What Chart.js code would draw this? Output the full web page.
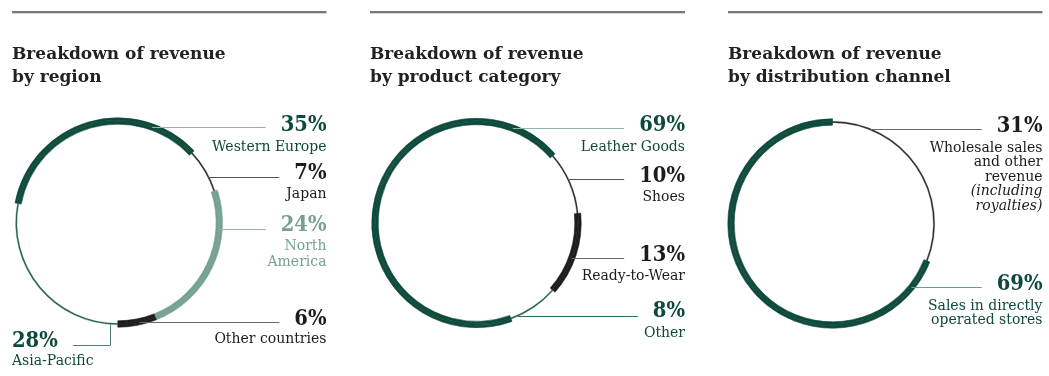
<!DOCTYPE html>
<html>
<head>
<meta charset="utf-8">
<script src="https://cdn.jsdelivr.net/npm/chart.js@4.4.1/dist/chart.umd.min.js"></script>
<style>
  html, body { margin: 0; padding: 0; background: #fff; }
  #wrap { position: relative; width: 1049px; height: 376px; overflow: hidden; }
  #wrap canvas { position: absolute; left: 0; top: 0; }
</style>
</head>
<body>
<div id="wrap">
  <canvas id="region" width="1049" height="376"></canvas>
  <canvas id="product" width="1049" height="376"></canvas>
  <canvas id="channel" width="1049" height="376"></canvas>
</div>
<script>
// ---- Revenue breakdown data (percent of total) ----
const regionLabels = ['Western Europe', 'Japan', 'North America', 'Other countries', 'Asia-Pacific'];
const regionShares = [35, 7, 24, 6, 28];
const regionCaptions = [['Western Europe'], ['Japan'], ['North', 'America'], ['Other countries'], ['Asia-Pacific']];

const productLabels = ['Leather Goods', 'Shoes', 'Ready-to-Wear', 'Other'];
const productShares = [69, 10, 13, 8];
const productCaptions = [['Leather Goods'], ['Shoes'], ['Ready-to-Wear'], ['Other']];

const channelLabels = ['Wholesale sales and other revenue (including royalties)', 'Sales in directly operated stores'];
const channelShares = [31, 69];
const channelCaptions = [['Wholesale sales', 'and other', 'revenue', '(including', 'royalties)'], ['Sales in directly', 'operated stores']];

const panelTitles = [
  ['Breakdown of revenue', 'by region'],
  ['Breakdown of revenue', 'by product category'],
  ['Breakdown of revenue', 'by distribution channel']
];

// ---- Palette ----
const DARK = '#0d4a3b';
const LIGHT = '#76a192';
const INK = '#1c1c1c';
const HAIR = '#2e2e2e';
const CLEAR = 'rgba(0,0,0,0)';

const SERIF = "'DejaVu Serif', serif";
const PCT_FONT = 'bold 22px ' + SERIF;
const PCT_SQUEEZE = 0.89;
const CAP_FONT = '14px ' + SERIF;
const CAP_ITALIC = 'italic 14px ' + SERIF;
const TITLE_FONT = 'bold 17px ' + SERIF;

// Each ring is built from three concentric bands sharing the same values:
// heavy segments fill all three, hairline segments only the middle one.
function ringDatasets(values, colors, heavy) {
  const edge = colors.map((c, i) => heavy[i] ? c : CLEAR);
  return [
    { data: values, backgroundColor: edge, borderColor: edge, borderWidth: heavy.map(h => h ? 0.6 : 0), weight: 2.5 },
    { data: values, backgroundColor: colors, borderColor: colors, borderWidth: heavy.map(h => h ? 0.6 : 0.25), weight: 1.4 },
    { data: values, backgroundColor: edge, borderColor: edge, borderWidth: heavy.map(h => h ? 0.6 : 0), weight: 2.5 }
  ];
}

function drawPct(ctx, text, x, y, align, color) {
  ctx.save();
  ctx.font = PCT_FONT;
  ctx.fillStyle = color;
  ctx.textAlign = align;
  ctx.textBaseline = 'alphabetic';
  ctx.translate(x, y);
  ctx.scale(PCT_SQUEEZE, 1);
  ctx.fillText(text, 0, 0);
  const w = ctx.measureText(text).width * PCT_SQUEEZE;
  ctx.restore();
  return w;
}

function hline(ctx, x1, x2, y, color) {
  ctx.save();
  ctx.strokeStyle = color;
  ctx.lineWidth = 1;
  ctx.beginPath();
  const yy = Math.round(y) + 0.5;
  ctx.moveTo(x1, yy);
  ctx.lineTo(x2, yy);
  ctx.stroke();
  ctx.restore();
}

// Draws the panel rule, title, value labels and leader lines
function panelDecor(panel) {
  return {
    id: 'panelDecor',
    afterDraw(chart) {
      const ctx = chart.ctx;
      const arc = chart.getDatasetMeta(1).data[0];
      const cx = arc.x, cy = arc.y;
      const r = (arc.innerRadius + arc.outerRadius) / 2;
      const ringX = y => cx + Math.sqrt(Math.max(r * r - (y - cy) * (y - cy), 0));

      // top rule
      ctx.save();
      ctx.fillStyle = '#787878';
      ctx.fillRect(panel.left, 11, panel.right - panel.left, 2.3);

      // title
      ctx.font = TITLE_FONT;
      ctx.fillStyle = '#222';
      ctx.textAlign = 'left';
      ctx.textBaseline = 'alphabetic';
      panel.title.forEach((t, i) => ctx.fillText(t, panel.left, 59 + i * 23));
      ctx.restore();

      panel.items.forEach((it, i) => {
        const pctText = panel.values[i] + '%';
        const captions = panel.captions[i];
        if (it.elbowX) {
          // label sits below-left of the ring, leader bends up to it
          const w = drawPct(ctx, pctText, panel.left, it.pctY, 'left', it.color);
          ctx.save();
          ctx.font = CAP_FONT;
          ctx.fillStyle = it.color;
          ctx.textAlign = 'left';
          captions.forEach((c, k) => ctx.fillText(c, panel.left, it.capY[k]));
          ctx.restore();
          const yTop = cy + Math.sqrt(Math.max(r * r - (it.elbowX - cx) * (it.elbowX - cx), 0));
          const ly = Math.round(it.leadY) + 0.5;
          const ex = Math.round(it.elbowX) + 0.5;
          ctx.save();
          ctx.strokeStyle = it.leadColor;
          ctx.lineWidth = 1;
          ctx.beginPath();
          ctx.moveTo(ex, yTop);
          ctx.lineTo(ex, ly);
          ctx.lineTo(panel.left + w + 15, ly);
          ctx.stroke();
          ctx.restore();
          return;
        }
        const w = drawPct(ctx, pctText, panel.right, it.pctY, 'right', it.color);
        ctx.save();
        ctx.textAlign = 'right';
        ctx.fillStyle = it.color;
        captions.forEach((c, k) => {
          ctx.font = (it.italicFrom !== undefined && k >= it.italicFrom) ? CAP_ITALIC : CAP_FONT;
          ctx.fillText(c, panel.right, it.capY[k]);
        });
        ctx.restore();
        hline(ctx, ringX(it.leadY), panel.right - w - 15, it.leadY, it.leadColor);
      });
    }
  };
}

function makeChart(id, labels, values, colors, heavy, rotation, center, panel) {
  const half = 115;
  return new Chart(document.getElementById(id), {
    type: 'doughnut',
    data: { labels: labels, datasets: ringDatasets(values, colors, heavy) },
    options: {
      responsive: false,
      animation: false,
      events: [],
      devicePixelRatio: 1,
      rotation: rotation,
      radius: 104.7,
      cutout: '93.89%',
      layout: {
        padding: {
          left: center[0] - half,
          right: 1049 - center[0] - half,
          top: center[1] - half,
          bottom: 376 - center[1] - half
        }
      },
      plugins: { legend: { display: false }, tooltip: { enabled: false } }
    },
    plugins: [panelDecor(panel)]
  });
}

makeChart('region', regionLabels, regionShares,
  [DARK, HAIR, LIGHT, INK, '#2a6554'],
  [true, false, true, true, false],
  -79.2, [117.8, 222.5],
  {
    left: 12, right: 326.5, title: panelTitles[0], values: regionShares, captions: regionCaptions,
    items: [
      { pctY: 130.7, capY: [150.5], leadY: 127, color: DARK, leadColor: '#94b5a8' },
      { pctY: 179, capY: [198], leadY: 176.7, color: INK, leadColor: '#555' },
      { pctY: 230.7, capY: [250, 266], leadY: 228.5, color: LIGHT, leadColor: '#94b5a8' },
      { pctY: 325, capY: [343.3], leadY: 321.7, color: INK, leadColor: '#6a6a6a' },
      { pctY: 346.7, capY: [365], leadY: 344.5, elbowX: 110, color: DARK, leadColor: '#4d8272' }
    ]
  });

makeChart('product', productLabels, productShares,
  [DARK, HAIR, INK, '#2a6554'],
  [true, false, true, false],
  160.2, [476.5, 223],
  {
    left: 370, right: 685, title: panelTitles[1], values: productShares, captions: productCaptions,
    items: [
      { pctY: 130.7, capY: [150.7], leadY: 128.3, color: DARK, leadColor: '#94b5a8' },
      { pctY: 181.7, capY: [200.7], leadY: 179.3, color: INK, leadColor: '#555' },
      { pctY: 260.7, capY: [280], leadY: 258.3, color: INK, leadColor: '#6a6a6a' },
      { pctY: 317.3, capY: [336.7], leadY: 315.7, color: DARK, leadColor: '#2f6a59' }
    ]
  });

makeChart('channel', channelLabels, channelShares,
  [HAIR, DARK],
  [false, true],
  0, [832.5, 223.5],
  {
    left: 728, right: 1042.5, title: panelTitles[2], values: channelShares, captions: channelCaptions,
    items: [
      { pctY: 131.7, capY: [151.5, 166, 180.7, 195.3, 210], italicFrom: 3, leadY: 129.3, color: INK, leadColor: '#6a6a6a' },
      { pctY: 290, capY: [309.5, 323.5], leadY: 287.3, color: DARK, leadColor: '#6f9a8b' }
    ]
  });
</script>
</body>
</html>
